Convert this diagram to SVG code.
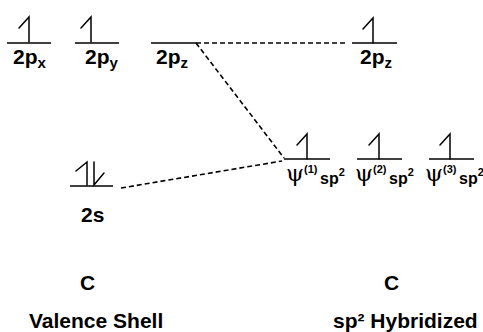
<svg xmlns="http://www.w3.org/2000/svg" width="483" height="332" viewBox="0 0 483 332">
<style>
.lvl{stroke:#000;stroke-width:1.6;fill:none}
.arr{stroke:#000;stroke-width:1.5;fill:none;stroke-linecap:round}
.dash{stroke:#000;stroke-width:1.6;fill:none;stroke-dasharray:5 3}
text{font-family:"Liberation Sans",Arial,Helvetica,sans-serif;font-weight:bold;fill:#000}
.big{font-size:21px}
.sub{font-size:15px}
.psi{font-family:"DejaVu Serif","Liberation Serif",serif;font-weight:normal;font-size:23px}
.sup{font-size:11px}
.sp{font-size:16px}
</style>
<defs>
<path id="up" class="arr" d="M-10,11 L0,0 L0,25"/>
</defs>
<rect width="483" height="332" fill="#fff"/>
<g id="connectors">
<line class="dash" x1="196" y1="43" x2="347" y2="43"/>
<line class="dash" x1="196" y1="43" x2="284" y2="158"/>
<line class="dash" x1="121" y1="188" x2="282" y2="161"/>
</g>
<g id="orb-2px">
<line class="lvl" x1="7" y1="43" x2="51" y2="43"/>
<use href="#up" x="29" y="17"/>
<text class="big" x="13" y="64">2p<tspan class="sub" dy="4">x</tspan></text>
</g>
<g id="orb-2py">
<line class="lvl" x1="75" y1="43" x2="119" y2="43"/>
<use href="#up" x="91" y="17"/>
<text class="big" x="85" y="64">2p<tspan class="sub" dy="4">y</tspan></text>
</g>
<g id="orb-2pz">
<line class="lvl" x1="151" y1="43" x2="196" y2="43"/>
<text class="big" x="156" y="64">2p<tspan class="sub" dy="4">z</tspan></text>
</g>
<g id="orb-2s">
<line class="lvl" x1="70" y1="186" x2="113" y2="186"/>
<path class="arr" d="M76,171 L87,162 L87,185"/>
<path class="arr" d="M94,162 L94,185 L104,173"/>
<text class="big" x="81" y="222">2s</text>
</g>
<g id="orb-2pz-right">
<line class="lvl" x1="352" y1="43" x2="397" y2="43"/>
<use href="#up" x="373" y="18"/>
<text class="big" x="360" y="64">2p<tspan class="sub" dy="4">z</tspan></text>
</g>
<g id="orb-sp2-1">
<line class="lvl" x1="284" y1="159" x2="330" y2="159"/>
<use href="#up" x="307" y="134"/>
<text class="psi" x="286" y="181">ψ</text>
<text class="sup" x="304" y="173">(1)</text>
<text x="320" y="184"><tspan class="sp">sp</tspan><tspan class="sup" dy="-8">2</tspan></text>
</g>
<g id="orb-sp2-2">
<line class="lvl" x1="357" y1="159" x2="402" y2="159"/>
<use href="#up" x="379" y="134"/>
<text class="psi" x="355" y="181">ψ</text>
<text class="sup" x="373" y="173">(2)</text>
<text x="389" y="184"><tspan class="sp">sp</tspan><tspan class="sup" dy="-8">2</tspan></text>
</g>
<g id="orb-sp2-3">
<line class="lvl" x1="429" y1="159" x2="474" y2="159"/>
<use href="#up" x="450" y="134"/>
<text class="psi" x="425" y="181">ψ</text>
<text class="sup" x="443" y="173">(3)</text>
<text x="459" y="184"><tspan class="sp">sp</tspan><tspan class="sup" dy="-8">2</tspan></text>
</g>
<g id="label-left">
<text class="big" x="80" y="290">C</text>
<text class="big" x="29" y="328">Valence Shell</text>
</g>
<g id="label-right">
<text class="big" x="384" y="290">C</text>
<text class="big" x="333" y="328">sp² Hybridized</text>
</g>
</svg>
